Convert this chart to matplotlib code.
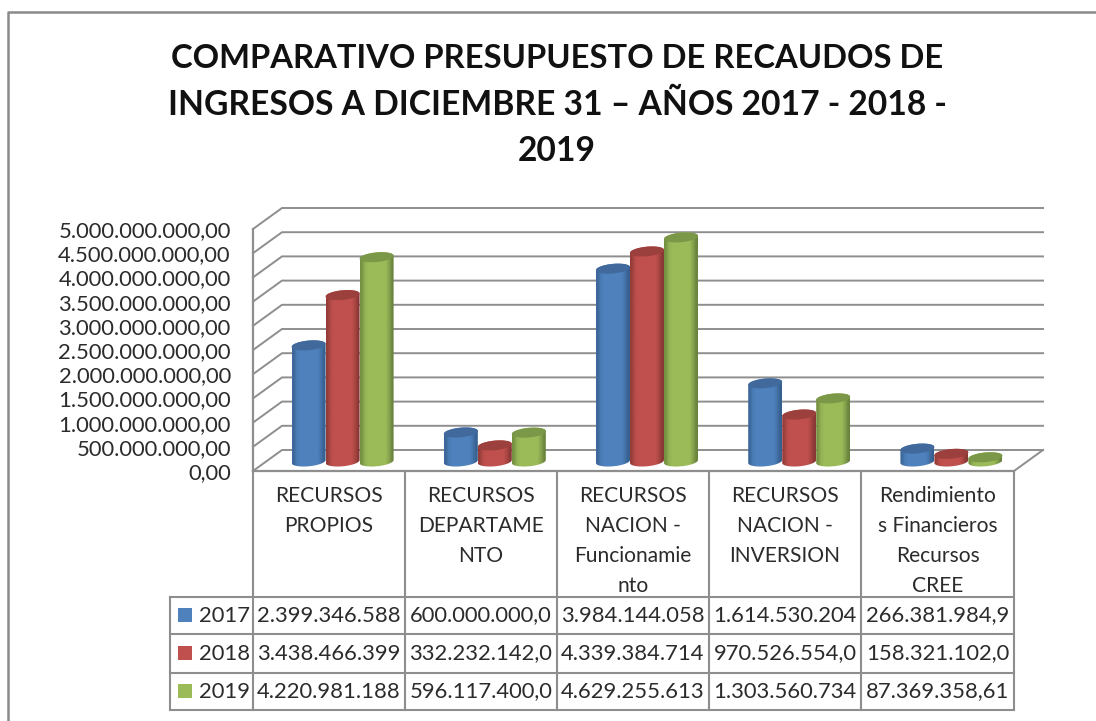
import numpy as np
import matplotlib
matplotlib.use('Agg')
import matplotlib.pyplot as plt
from matplotlib.colors import LinearSegmentedColormap
from matplotlib.patches import Polygon, Rectangle

plt.rcParams['font.family'] = ['Lato', 'DejaVu Sans']

categories = ['RECURSOS\nPROPIOS', 'RECURSOS\nDEPARTAME\nNTO', 'RECURSOS\nNACION -\nFuncionamie\nnto',
              'RECURSOS\nNACION -\nINVERSION', 'Rendimiento\ns Financieros\nRecursos\nCREE']
years = ['2017', '2018', '2019']
v2017 = [2399346588, 600000000, 3984144058, 1614530204, 266381984.9]
v2018 = [3438466399, 332232142, 4339384714, 970526554, 158321102]
v2019 = [4220981188, 596117400, 4629255613, 1303560734, 87369358.61]
t2017 = ['2.399.346.588', '600.000.000,0', '3.984.144.058', '1.614.530.204', '266.381.984,9']
t2018 = ['3.438.466.399', '332.232.142,0', '4.339.384.714', '970.526.554,0', '158.321.102,0']
t2019 = ['4.220.981.188', '596.117.400,0', '4.629.255.613', '1.303.560.734', '87.369.358,61']
ticks = [0, 5e8, 1e9, 1.5e9, 2e9, 2.5e9, 3e9, 3.5e9, 4e9, 4.5e9, 5e9]
tick_labels = ['0,00', '500.000.000,00', '1.000.000.000,00', '1.500.000.000,00', '2.000.000.000,00',
               '2.500.000.000,00', '3.000.000.000,00', '3.500.000.000,00', '4.000.000.000,00',
               '4.500.000.000,00', '5.000.000.000,00']

W, H = 1096, 721
TXT = '#2b2b2b'
GRID = '#8e8e8e'
colors = ['#4f81bd', '#c0504d', '#9bbb59']
tops = ['#41699c', '#9c403d', '#7b9848']
darks = ['#36608f', '#8a3835', '#6b853c']

fig = plt.figure(figsize=(W / 100, H / 100), dpi=100)

# overlay in pixels for frame and table
bg = fig.add_axes([0, 0, 1, 1])
bg.set_xlim(0, W)
bg.set_ylim(H, 0)
bg.axis('off')
bg.plot([7.5, 7.5, W], [H, 11.5, 11.5], color='#8a8a8a', lw=1.8)

# chart axes: front plane of the 3d box
x0, x1, y0, y1 = 253, 1014, 471, 229
ax = fig.add_axes([x0 / W, 1 - y0 / H, (x1 - x0) / W, (y0 - y1) / H])
ax.patch.set_alpha(0)
ax.set_xlim(0, 5)
ax.set_ylim(0, 5e9)
for s in ax.spines.values():
    s.set_visible(False)
ax.set_xticks([])
ax.set_yticks(ticks, tick_labels, fontsize=15.8, color=TXT)
ax.tick_params(axis='y', length=0, pad=16)

# depth of the box in data units
px = 5 / (x1 - x0)
py = 5e9 / (y0 - y1)
dx = 29 * px
dy = 21 * py
for t in ticks:
    ax.plot([0, dx, 5 + dx], [t, t + dy, t + dy], color=GRID, lw=1.4, clip_on=False, zorder=1)
ax.plot([0, 0], [0, 5e9], color=GRID, lw=1.6, clip_on=False, zorder=1)
ax.plot([5, 5 + dx], [0, dy], color=GRID, lw=1.4, clip_on=False, zorder=1)

bar_w = 34 * px
rx = bar_w / 2
ry = 4.8 * py
tilt = 1.5 * py / rx
t_low = np.linspace(np.pi, 2 * np.pi, 40)
t_up = np.linspace(0, np.pi, 40)


def ring(cx, cy, t):
    return cx + rx * np.cos(t), cy + ry * np.sin(t) + tilt * rx * np.cos(t)


def cylinder(cx, val, j, z):
    base = dy / 2 - 1 * py
    xb, yb = ring(cx, base, t_low)
    xt, yt = ring(cx, base + val, t_up)
    body = Polygon(np.c_[np.r_[xb, xt], np.r_[yb, yt]], closed=True, fc='none', ec='none',
                   transform=ax.transData, zorder=z)
    ax.add_patch(body)
    cmap = LinearSegmentedColormap.from_list('c', [darks[j], colors[j], colors[j], darks[j]])
    grad = cmap(np.array([0.08, .28, .4, .5, .55, .6, .63, .66, .8, 1.0]))
    img = ax.imshow(grad[np.newaxis, :, :3], extent=[cx - rx, cx + rx, base - 2 * ry, base + val + 2 * ry],
                    aspect='auto', interpolation='bilinear', zorder=z)
    img.set_clip_path(body)
    xa, ya = ring(cx, base + val, np.linspace(0, 2 * np.pi, 80))
    ax.add_patch(Polygon(np.c_[xa, ya], closed=True, fc=tops[j], ec='none', zorder=z + .1))


series = [v2017, v2018, v2019]
for i in range(len(categories)):
    for j, vals in enumerate(series):
        cx = i + .5 + dx / 2 - 1 * px + (j - 1) * bar_w
        cylinder(cx, vals[i], j, 3 + j)
ax.set_xlim(0, 5)
ax.set_ylim(0, 5e9)

# title
title_lines = ['COMPARATIVO PRESUPUESTO DE RECAUDOS DE', 'INGRESOS A DICIEMBRE 31 – AÑOS 2017 - 2018 -', '2019']
title_sizes = [23.6, 24.2, 24.2]
for ln, yy, fs in zip(title_lines, [58, 105, 151], title_sizes):
    bg.text(557, yy, ln, ha='center', va='center', fontsize=fs, fontweight='bold', color='#111111')

# data table
col_x = [253, 405, 557, 709, 861, 1014]
row_y = [597, 634, 673, 710]
for xx in col_x:
    bg.plot([xx, xx], [471, 710], color=GRID, lw=1.5)
bg.plot([253, 1014], [471, 471], color=GRID, lw=1.6)
bg.plot([170, 170], [597, 710], color=GRID, lw=1.5)
for yy in row_y:
    bg.plot([170, 1014], [yy, yy], color=GRID, lw=1.5)
for i, c in enumerate(categories):
    for k, ln in enumerate(c.split('\n')):
        bg.text((col_x[i] + col_x[i + 1]) / 2, 496 + 30 * k, ln, ha='center', va='center', fontsize=15.1, color=TXT)
rows = [t2017, t2018, t2019]
for r, (yr, row) in enumerate(zip(years, rows)):
    yc = (row_y[r] + row_y[r + 1]) / 2
    bg.add_patch(Rectangle((178, yc - 8), 14, 14, fc=colors[r], ec='none'))
    bg.text(199, yc, yr, ha='left', va='center', fontsize=15.8, color=TXT)
    for i, s in enumerate(row):
        bg.text((col_x[i] + col_x[i + 1]) / 2, yc, s, ha='center', va='center', fontsize=15.8, color=TXT)

fig.savefig('out.png', dpi=100)
